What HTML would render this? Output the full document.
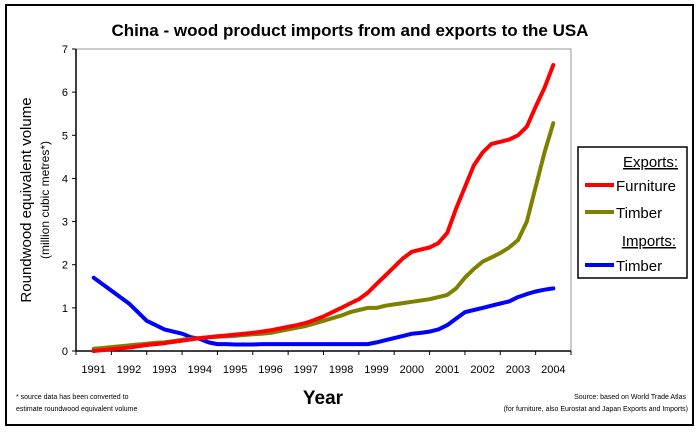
<!DOCTYPE html>
<html><head><meta charset="utf-8"><style>
body{margin:0;background:#fff;font-family:"Liberation Sans",Arial,sans-serif}
</style></head><body>
<svg id="chart" width="700" height="430" viewBox="0 0 700 430" xmlns="http://www.w3.org/2000/svg">
<rect x="6" y="5" width="687" height="420" fill="#fff" stroke="#000" stroke-width="2"/>
<text x="350" y="36" text-anchor="middle" font-size="17" font-weight="bold">China - wood product imports from and exports to the USA</text>
<rect x="76" y="49" width="495" height="302" fill="#fff" stroke="#999"/>
<g id="axes"></g>
<g id="series"></g>
<text transform="translate(31,200) rotate(-90)" text-anchor="middle" font-size="15">Roundwood equivalent volume</text>
<text transform="translate(49,200) rotate(-90)" text-anchor="middle" font-size="12">(million cubic metres*)</text>
<text x="323" y="404" text-anchor="middle" font-size="19" font-weight="bold">Year</text>
<text x="16" y="399" font-size="7">* source data has been converted to</text>
<text x="16" y="411" font-size="7">estimate roundwood equivalent volume</text>
<text x="686" y="399" text-anchor="end" font-size="7">Source: based on World Trade Atlas</text>
<text x="688" y="411" text-anchor="end" font-size="7">(for furniture, also Eurostat and Japan Exports and Imports)</text>
<g>
<rect x="578" y="147" width="109" height="131" fill="#fff" stroke="#000" stroke-width="1.5"/>
<text x="678" y="167" text-anchor="end" font-size="15" text-decoration="underline">Exports:</text>
<line x1="585" y1="185" x2="614" y2="185" stroke="#ff0000" stroke-width="4"/>
<text x="616" y="191" font-size="15">Furniture</text>
<line x1="585" y1="212" x2="614" y2="212" stroke="#808000" stroke-width="4"/>
<text x="616" y="218" font-size="15">Timber</text>
<text x="676" y="246" text-anchor="end" font-size="15" text-decoration="underline">Imports:</text>
<line x1="585" y1="265" x2="614" y2="265" stroke="#0000ff" stroke-width="4"/>
<text x="616" y="271" font-size="15">Timber</text>
</g>
</svg>
<script>
const years=[1991,1992,1993,1994,1995,1996,1997,1998,1999,2000,2001,2002,2003,2004];
const yTicks=[0,1,2,3,4,5,6,7];
const furniture=[0,.02,.04,.06,.08,.11,.14,.16,.18,.21,.24,.27,.3,.32,.34,.36,.38,.4,.42,.45,.48,.52,.56,.6,.65,.72,.8,.9,1.0,1.1,1.2,1.35,1.55,1.75,1.95,2.15,2.3,2.35,2.4,2.5,2.74,3.3,3.8,4.3,4.6,4.8,4.85,4.9,5.0,5.2,5.66,6.1,6.63];
const timberExports=[.05,.07,.09,.11,.13,.15,.17,.19,.2,.23,.26,.28,.3,.32,.33,.34,.35,.37,.39,.4,.42,.46,.5,.54,.58,.64,.7,.76,.82,.9,.95,1.0,1.0,1.05,1.08,1.11,1.14,1.17,1.2,1.25,1.3,1.45,1.7,1.9,2.07,2.17,2.27,2.4,2.57,3.0,3.8,4.6,5.28];
const timberImports=[1.7,1.55,1.4,1.25,1.1,.9,.7,.6,.5,.45,.4,.32,.28,.2,.16,.16,.15,.15,.15,.16,.16,.16,.16,.16,.16,.16,.16,.16,.16,.16,.16,.16,.2,.25,.3,.35,.4,.42,.45,.5,.6,.75,.9,.95,1.0,1.05,1.1,1.15,1.25,1.32,1.38,1.42,1.45];
const NS="http://www.w3.org/2000/svg";
const X0=76,X1=571,Y0=351,Y1=49,YMAX=7;
const bw=(X1-X0)/years.length;
function xPos(t){return X0+bw/2+(t-years[0])*bw;}
function yPos(v){return Y0-(v/YMAX)*(Y0-Y1);}
const axes=document.getElementById('axes');
function mk(tag,attrs,parent){const e=document.createElementNS(NS,tag);for(const k in attrs)e.setAttribute(k,attrs[k]);parent.appendChild(e);return e;}
let ax=mk('line',{x1:X0,y1:Y1,x2:X0,y2:Y0,stroke:'#000','stroke-width':1.5},axes);


let bx=mk('line',{x1:X0,y1:Y0,x2:X1,y2:Y0,stroke:'#000','stroke-width':1.5},axes);


yTicks.forEach(v=>{
  const y=yPos(v);
  const t=mk('line',{x1:X0-4,y1:y,x2:X0,y2:y,stroke:'#000'},axes);
  
  
  const l=mk('text',{x:X0-8,y:y+4,'text-anchor':'end','font-size':11},axes);
  l.textContent=v;
  
  
});
for(let i=0;i<=years.length;i++){
  const x=X0+i*bw;
  const t=mk('line',{x1:x,y1:Y0,x2:x,y2:Y0+4,stroke:'#000'},axes);
  
  
}
years.forEach(yr=>{
  const l=mk('text',{x:xPos(yr),y:373,'text-anchor':'middle','font-size':11},axes);
  l.textContent=yr;
  
  
});
const series=document.getElementById('series');
function drawLine(vals,color,name){
  const pts=vals.map((v,i)=>xPos(years[0]+i*0.25).toFixed(1)+','+yPos(v).toFixed(1)).join(' ');
  const p=mk('polyline',{points:pts,fill:'none',stroke:color,'stroke-width':4,'stroke-linejoin':'round','stroke-linecap':'round'},series);
  
  
}
drawLine(timberImports,'#0000ff','line-timber-imports');
drawLine(timberExports,'#808000','line-timber-exports');
drawLine(furniture,'#ff0000','line-furniture-exports');
</script>
</body></html>
